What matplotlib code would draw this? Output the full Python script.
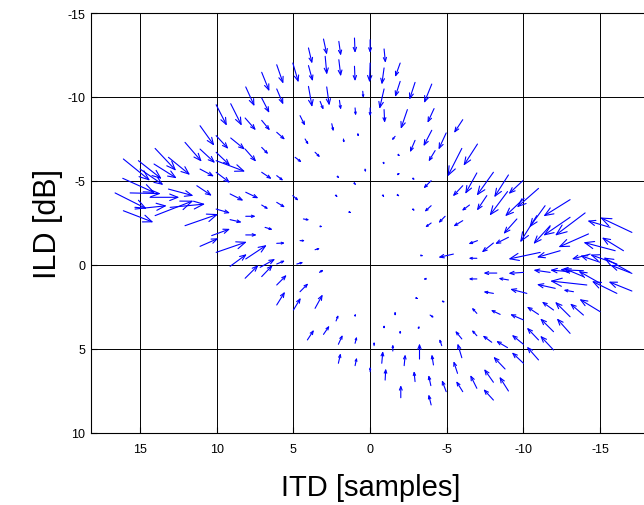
import numpy as np
import matplotlib.pyplot as plt

plt.rcParams['font.family'] = ['Liberation Sans', 'DejaVu Sans']
plt.rcParams['axes.unicode_minus'] = False

# arrow tails (ITD, ILD) and displacement (dITD, dILD)
itd = [3.04, 2.04, 1.02, 4.02, 6.09, 7.07, 5.04, 4.02, 2.93, 2.04, 1.02, 8.11, 7.07, 6.09,
       4.02, 3.26, 2.83, 2.0, 0.98, 0.48, 10.04, 9.09, 8.15, 7.07, 4.57, 2.5, 11.09, 10.04,
       9.09, 6.09, 4.24, 1.74, 0.8,
       0.0, 0.0, 0.0, -0.91, -1.96, -0.91, -1.96, -2.93, -4.02, -0.91, -2.43, -0.91, -4.17,
       -6.04, -1.63, -4.02, -4.96, -2.93, -5.98, -7.0,
       -0.87, -1.85, -4.24, -1.85, -2.78, -3.98, -6.04, -6.96, -8.04, -9.02, -9.96, -10.98,
       -0.87, -1.85, -2.83, -3.98, -6.48, -7.61, -8.96, -10.04, -11.41, -13.04, -14.02,
       -4.89, -6.04, -3.98, -9.57, -10.87, -11.74, -13.04, -17.07, -15.65, -14.24, -16.52,
       -15.98, -9.02, -8.04, -7.0, -14.35, -12.39, -11.09, -16.96, -16.09, -15.0, -3.37,
       -5.43, -6.96, -13.91, -11.74, -10.0, -8.26,
       -3.59, -6.96, -9.02, -13.04, -13.91, -15.0, -17.07, -17.07, -16.09, -14.13, -12.07,
       -8.04, -10.22, -13.26, -15.0, -13.91, -13.04, -11.96, -10.98, -10.0, -8.48, -6.96,
       -3.04, -4.78, -1.63, -3.91, -0.91, -1.96, -3.15, -4.67, -5.98, -6.96, -7.93, -8.96,
       -10.0, -10.98, -11.96, -13.04, -11.96, -10.98, -10.0, -0.26, -1.48, -3.22, -4.13,
       -5.98, -0.76, -2.22, 0.0, -0.98, -2.93, -3.96, -4.96, -5.7, -6.04, -6.96, -8.04,
       -8.8, -9.02, -8.04, -2.0, -3.98,
       8.15, 7.07, 6.09, 4.57, 6.09, 5.0, 3.59, 3.3, 2.22, 0.98, 4.09, 3.04, 2.07, 0.98,
       2.07, 0.98,
       12.07, 11.09, 8.15, 7.07, 3.59, 4.89, 0.33, 16.09, 15.11, 14.02, 13.15, 14.09, 15.0,
       11.09, 10.04, 10.04, 10.04, 7.07, 6.09, 16.13, 16.63, 15.65, 14.35, 13.15, 11.3,
       16.09, 15.33, 14.02, 13.04, 12.07, 10.04, 9.13, 8.11, 7.07, 6.09, 5.04, 9.13, 8.11,
       6.85, 4.35, 3.26, 10.33, 11.09, 10.04, 8.11, 6.09, 4.57, 3.59, 9.13, 8.11, 7.17,
       6.09, 4.78, 3.26, 2.17, 1.3, 2.07, 0.98]
ild = [-13.45, -13.31, -13.51, -12.92, -11.92, -11.47, -12.02, -11.87, -12.42, -12.22,
       -11.83, -10.6, -9.94, -10.48, -10.63, -9.74, -10.6, -9.8, -9.35, -10.34, -9.54,
       -9.6, -8.75, -8.61, -8.89, -8.41, -8.29, -7.7, -7.56, -7.9, -7.5, -7.5, -7.82,
       -13.41, -12.02, -9.35, -12.86, -12.02, -11.73, -10.93, -10.87, -10.77, -10.48,
       -9.25, -9.25, -9.31, -8.65, -7.66, -8.02, -7.86, -7.42, -6.94, -7.2,
       -6.11, -6.55, -6.81, -5.42, -5.16, -5.02, -4.72, -5.48, -5.52, -5.36, -5.02, -4.56,
       -4.09, -4.13, -3.29, -3.53, -3.57, -4.13, -4.37, -3.97, -3.53, -3.89, -3.1,
       -2.9, -2.64, -2.5, -2.74, -2.94, -2.34, -2.84, -1.94, -2.24, -1.85, -0.85,
       -0.85, -1.65, -1.31, -1.45, -0.65, -0.85, -0.75, 0.44, -0.06, -0.16, -0.56,
       -0.65, -0.4, 0.34, 0.44, 0.44, 0.48,
       0.83, 0.83, 0.89, 0.4, 0.69, 1.09, 0.5, 1.55, 1.69, 1.19, 1.39,
       1.69, 1.69, 1.59, 2.78, 2.98, 3.08, 2.68, 2.94, 3.27, 2.94, 2.88,
       1.98, 2.18, 2.94, 2.98, 3.73, 4.07, 3.77, 4.8, 4.4, 4.21, 4.6, 4.92,
       4.72, 4.46, 3.97, 4.07, 5.06, 5.65, 5.85, 4.8, 5.12, 5.6, 5.95,
       5.52, 5.85, 5.99, 6.35, 6.85, 6.94, 7.18, 7.54, 6.45, 7.54, 7.34, 6.98,
       6.19, 7.5, 8.04, 7.9, 8.33,
       0.79, 0.69, 1.19, 1.59, 2.38, 2.68, 2.58, 0.44, 3.33, 3.02, 4.46, 4.13, 4.72, 4.66,
       5.85, 5.99,
       -7.3, -6.9, -6.9, -7.0, -6.71, -6.41, -5.71, -6.31, -6.21, -6.94, -6.41, -6.01, -5.71,
       -5.71, -6.71, -6.21, -5.52, -5.52, -5.32, -5.16, -4.29, -4.29, -4.03, -4.52, -4.72,
       -3.23, -3.33, -2.94, -3.43, -2.34, -3.33, -4.23, -4.33, -3.57, -3.73, -4.13, -2.7, -2.9,
       -2.24, -2.74, -2.3, -1.75, -1.11, -0.75, -1.79, -1.29, -1.45, -0.91, 0.08, -0.36, 0.14,
       -0.06, -0.06, 0.4, -4.09, -3.13, -5.22, -4.82]
d_itd = [-0.22, -0.13, -0.04, -0.24, -0.43, -0.5, -0.37, -0.28, -0.11, -0.13, -0.04, -0.57,
         -0.5, -0.43, -0.24, -0.22, -0.17, -0.09, -0.04, -0.04, -0.7, -0.72, -0.7, -0.54,
         -0.33, -0.11, -0.93, -0.8, -0.93, -0.54, -0.22, -0.04, -0.04,
         0.0, 0.04, 0.0, -0.09, 0.33, 0.15, 0.33, 0.37, 0.5, 0.3, 0.43, -0.04, 0.43,
         0.57, 0.22, 0.54, 0.5, 0.33, 0.93, 0.91,
         -0.04, -0.1, 0.43, -0.1, -0.15, 0.5, 0.65, 0.76, 1.09, 0.93, 0.93, 1.41,
         -0.04, -0.06, -0.08, 0.43, 0.5, 0.65, 1.17, 1.24, 1.02, 1.74, 1.96,
         0.43, 0.61, 0.39, 0.87, 1.09, 1.09, 1.74, 2.07, 1.48, 1.96, 1.41,
         2.07, 0.87, 0.76, 0.59, 1.2, 1.52, 2.07, 1.74, 1.74, 1.3, -0.1,
         0.98, 0.54, 1.52, 1.09, 0.98, 0.87,
         0.1, 0.54, 0.65, 1.3, 1.3, 1.41, 1.41, 1.52, 1.63, 2.39, 1.2,
         0.65, 1.09, 0.65, 1.35, 0.87, 0.98, 0.76, 0.76, 0.87, 0.61, 0.33,
         -0.1, -0.1, 0.0, -0.26, 0.0, 0.0, -0.07, 0.15, 0.43, 0.33, 0.59, 0.74,
         0.76, 0.76, 0.87, 0.87, 0.87, 0.76, 0.76, 0.0, 0.0, 0.0, 0.11,
         0.28, -0.07, -0.07, 0.0, -0.04, 0.07, 0.15, 0.28, 0.26, 0.43, 0.43, 0.61,
         0.76, 0.59, 0.65, 0.0, 0.17,
         -0.87, -0.72, -0.65, -0.54, -0.54, -0.48, -0.5, -0.26, -0.15, -0.04, -0.43, -0.39,
         -0.28, -0.11, -0.15, -0.11,
         -1.09, -0.98, -0.72, -0.43, -0.33, -0.43, -0.04, -1.74, -1.52, -1.37, -1.41, -1.48,
         -1.52, -0.91, -0.91, -1.89, -0.91, -0.65, -0.43, -2.11, -2.07, -2.0, -1.91, -1.63,
         -0.98, -1.96, -2.07, -2.5, -2.28, -2.17, -0.91, -0.87, -0.83, -0.43, -0.54, -0.37,
         -0.76, -0.65, -0.5, -0.39, -0.17, -1.2, -1.2, -2.0, -0.72, -0.54, -0.33, -0.33,
         -1.09, -1.37, -0.98, -0.54, -0.43, -0.22, -0.05, -0.08, -0.06, -0.05]
d_ild = [0.93, 0.85, 0.89, 0.93, 1.13, 1.13, 1.15, 0.93, 1.09, 0.99, 0.89, 1.15, 0.89, 0.93,
         1.23, 0.5, 1.11, 0.56, 0.46, 0.4, 1.25, 1.31, 0.73, 0.6, 0.6, 0.46, 1.19, 0.79,
         0.69, 0.44, 0.34, 0.24, 0.2,
         0.79, 1.15, 0.5, 0.83, 0.83, 0.99, 0.93, 1.03, 1.13, 1.19, 1.15, 0.79, 0.85,
         0.79, 0.24, 0.95, 0.99, 0.71, 1.67, 1.29,
         0.16, 0.08, 0.65, -0.04, 0.1, 0.46, 0.63, 1.25, 1.39, 1.33, 0.79, 1.13,
         0.06, 0.04, 0.06, 0.36, 0.34, 0.89, 1.43, 1.07, 1.29, 0.99, 1.35,
         0.4, 0.34, 0.26, 0.89, 1.59, 1.09, 1.09, -0.89, -0.4, 0.79, -0.79,
         -0.5, 0.4, 0.56, 0.2, 0.3, 0.4, 0.4, -0.89, -0.56, -0.4, 0.02,
         0.2, 0.0, -0.06, -0.14, 0.06, 0.0,
         0.02, 0.0, -0.1, -0.1, -0.5, -0.73, -0.5, -0.56, -0.73, -0.24, -0.24,
         -0.1, -0.26, -0.1, -0.75, -0.69, -0.89, -0.5, -0.46, -0.34, -0.26, -0.34,
         0.04, 0.04, 0.06, 0.16, -0.16, -0.2, -0.16, -0.4, -0.48, -0.34, -0.4, -0.4,
         -0.56, -0.73, -0.79, -0.89, -0.85, -0.79, -0.65, -0.24, -0.4, -0.93, -0.63,
         -0.85, -0.73, -0.67, -0.3, -0.69, -0.63, -0.63, -0.69, -0.73, -0.63, -0.79, -0.79,
         -0.73, -0.85, -0.65, -0.75, -0.63,
         -0.79, -0.69, -0.6, -0.5, -0.79, -0.73, -0.83, -0.14, -0.36, -0.14, -0.6, -0.52,
         -0.56, -0.4, -0.6, -0.48,
         1.15, 0.83, 0.75, 0.4, 0.3, 0.3, 0.2, 1.29, 1.09, 1.33, 1.05, 0.85, 0.95,
         0.44, 0.79, 0.65, 0.63, 0.4, 0.3, 0.87, 0.95, 0.04, 0.0, 0.4, 0.6,
         0.69, -0.2, -0.89, -0.2, -0.69, 0.24, 0.4, 0.36, 0.24, 0.3, 0.3, 0.16, 0.0,
         0.14, 0.06, 0.02, -0.4, -0.48, -0.63, 0.0, -0.02, 0.0, -0.08, -0.73, -0.83, -0.5,
         -0.2, -0.1, -0.12, 0.04, 0.03, 0.05, 0.05]

x_ticks = [15, 10, 5, 0, -5, -10, -15]
y_ticks = [-15, -10, -5, 0, 5, 10]

itd, ild = np.array(itd), np.array(ild)
d_itd, d_ild = np.array(d_itd), np.array(d_ild)

fig = plt.figure(figsize=(6.44, 5.06), dpi=100)
ax = fig.add_axes([91 / 644, 72 / 506, 559 / 644, 420 / 506])
ax.set_xlim(18.2, -18.25)
ax.set_ylim(10, -15)

for x0, y0, dx, dy in zip(itd, ild, d_itd, d_ild):
    # arrow length in pixels, so the head scales with the arrow like MATLAB quiver
    length = np.hypot(dx * 15.33, dy * 16.8)
    ax.annotate('', xy=(x0 + dx, y0 + dy), xytext=(x0, y0),
                arrowprops=dict(arrowstyle='->, head_length=0.4, head_width=0.16',
                                color='blue', lw=0.8,
                                mutation_scale=max(2.0, 0.5 * length),
                                shrinkA=0, shrinkB=0))

ax.set_xticks(x_ticks)
ax.set_yticks(y_ticks)
ax.grid(True, color='black', lw=0.7)
ax.set_axisbelow(True)
ax.tick_params(direction='in', length=4, labelsize=9)
ax.tick_params(axis='x', pad=7)
ax.tick_params(axis='y', pad=4)
ax.set_xlabel('ITD [samples]', fontsize=21, labelpad=13)
ax.set_ylabel('ILD [dB]', fontsize=22, labelpad=3)
for s in ax.spines.values():
    s.set_linewidth(0.8)

fig.savefig('out.png', dpi=100)
